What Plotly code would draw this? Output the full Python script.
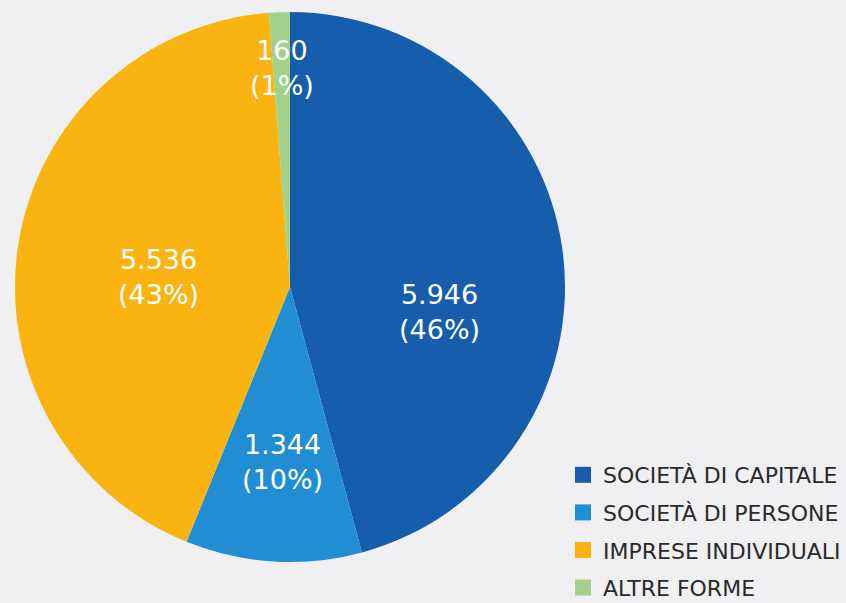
import math
import plotly.graph_objects as go

# forme giuridiche
labels = ["SOCIETÀ DI CAPITALE", "SOCIETÀ DI PERSONE", "IMPRESE INDIVIDUALI", "ALTRE FORME"]
values = [5946, 1344, 5536, 160]
colors = ["#165eac", "#218dd3", "#fab412", "#a3d08a"]

# posizione delle etichette: frazione del raggio e scarto angolare dal centro della fetta
label_radius = [0.553, 0.637, 0.481, 0.797]
label_shift = [17.1, -0.9, -4.5, 0.0]

W, H = 846, 603
cx, cy, R = 290, 287, 275  # centro e raggio della torta in pixel

total = sum(values)


def fmt(v):
    return f"{v:,}".replace(",", ".")


fig = go.Figure()
fig.add_trace(go.Pie(
    labels=labels,
    values=values,
    sort=False,
    direction="clockwise",
    rotation=0,
    marker=dict(colors=colors, line=dict(width=0)),
    textinfo="none",
    hoverinfo="label+value+percent",
    showlegend=False,
    domain=dict(x=[(cx - R) / W, (cx + R) / W], y=[1 - (cy + R) / H, 1 - (cy - R) / H]),
))

# voci di legenda (quadrati più grandi di quelli della torta)
for lab, col in zip(labels, colors):
    fig.add_trace(go.Scatter(
        x=[None], y=[None], mode="markers", name=lab, legendgroup=lab,
        marker=dict(symbol="square", size=16, color=col, line=dict(width=0)),
    ))

# etichette dentro le fette
start = 0.0
for v, rf, sh in zip(values, label_radius, label_shift):
    span = v / total * 360
    ang = math.radians(start + span / 2 + sh)
    start += span
    px_ = cx + rf * R * math.sin(ang)
    py_ = cy - rf * R * math.cos(ang)
    fig.add_annotation(
        x=px_ / W, y=1 - py_ / H, xref="paper", yref="paper",
        xanchor="center", yanchor="middle",
        text=f"{fmt(v)}<br>({round(v / total * 100)}%)",
        showarrow=False,
        font=dict(color="white", size=27, family="DejaVu Sans"),
    )

fig.update_layout(
    width=W, height=H,
    margin=dict(l=0, r=0, t=0, b=0, autoexpand=False),
    paper_bgcolor="#f0f0f2",
    plot_bgcolor="#f0f0f2",
    xaxis=dict(visible=False),
    yaxis=dict(visible=False),
    legend=dict(
        x=563 / W, y=1 - 454 / H, xanchor="left", yanchor="top",
        font=dict(size=22, color="#2a2a2a", family="DejaVu Sans"),
        bgcolor="rgba(0,0,0,0)",
        traceorder="grouped",
        tracegroupgap=6,
        itemsizing="trace",
    ),
)

fig.write_html("out.html", config={"displayModeBar": False},
               post_script="document.body.style.margin='0';")
